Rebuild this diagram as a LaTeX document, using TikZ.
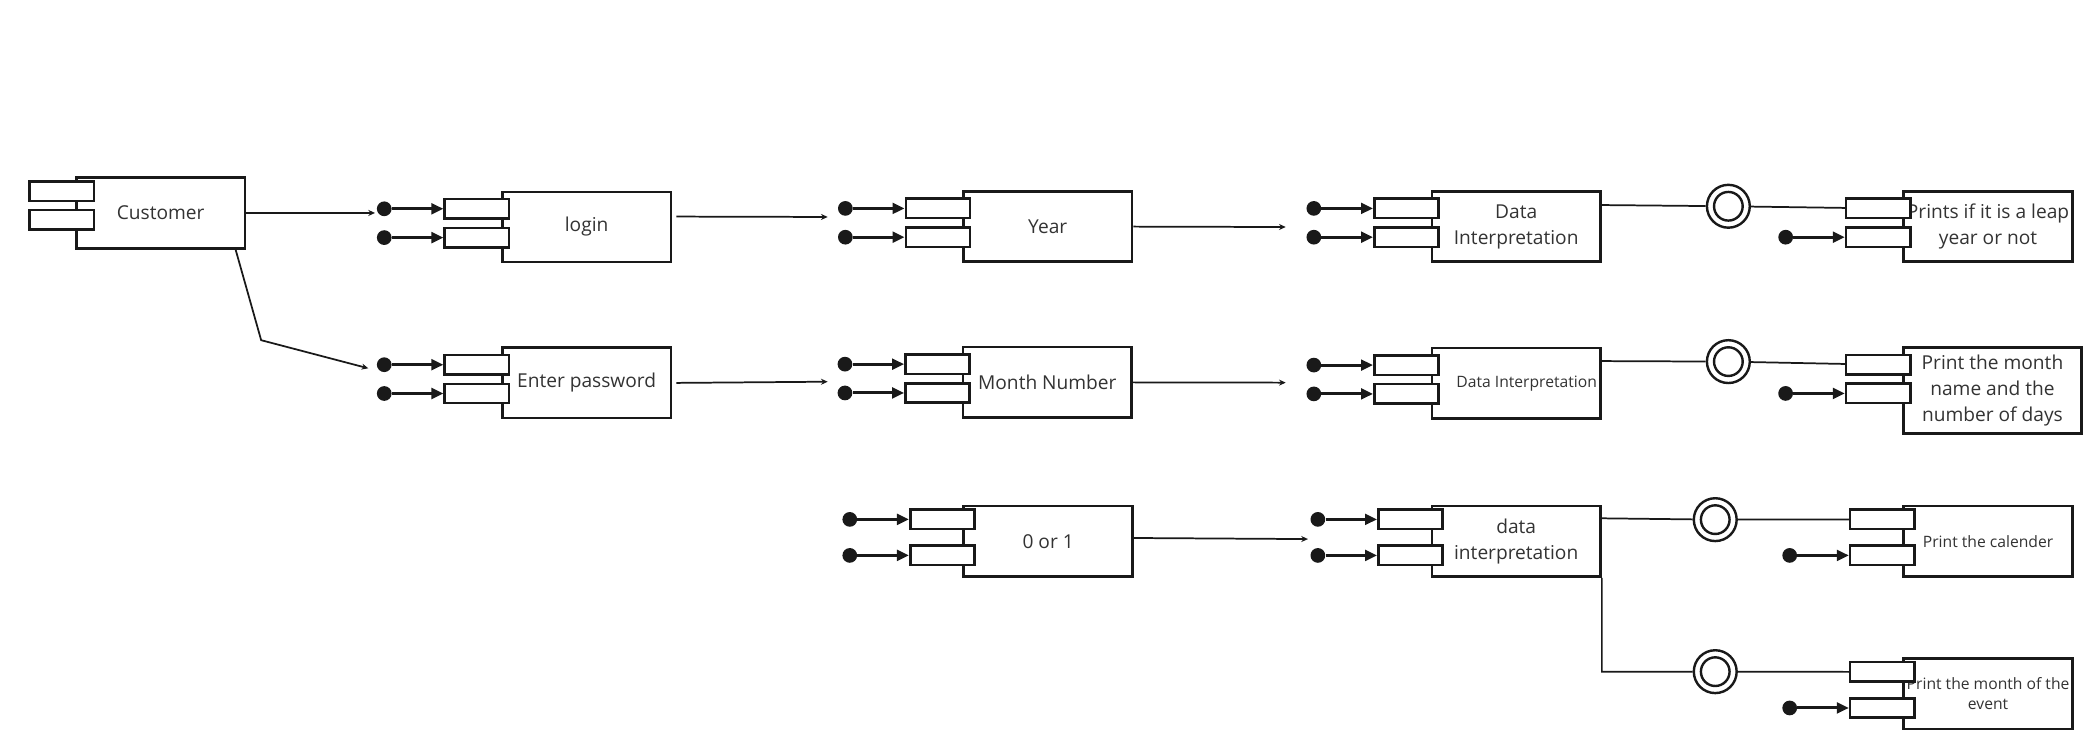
\documentclass[tikz,border=0pt]{standalone}
\usepackage{fontspec}
\setmainfont{Open Sans}
\usetikzlibrary{positioning,arrows.meta}

\tikzset{
  comp/.style={draw=black!90, line width=1.9pt, fill=white, minimum width=126pt, minimum height=52.5pt, inner sep=0pt, align=center, text=black!80, font=\fontsize{14.3}{19.4}\selectfont},
  small/.style={font=\fontsize{11.7}{15}\selectfont},
  port/.style={draw=black!90, line width=1.9pt, fill=white, minimum width=48pt, minimum height=14.5pt, inner sep=0pt},
  pin/.style={circle, fill=black!90, minimum size=11pt, inner sep=0pt},
  pinarrow/.style={draw=black!90, line width=2.2pt, -{Triangle[length=9pt,width=8pt]}},
  flow/.style={draw=black!90, line width=1.3pt, -{Stealth[length=5pt,width=4.5pt]}},
  wire/.style={draw=black!90, line width=1.3pt},
  ball/.style={circle, draw=black!90, line width=1.8pt, fill=white, minimum size=32pt, inner sep=0pt,
    path picture={\draw[black!90, line width=1.8pt] (path picture bounding box.center) circle (10.7pt);}}
}

\begin{document}
\begin{tikzpicture}[x=1pt, y=-1pt]
  \useasboundingbox (0,0) rectangle (1568,554.8);
  % Componentes
  \node[comp, minimum height=53pt] (cust) at (120,159) {Customer};
  \node[comp] (login) at (438,169.5) {login};
  \node[comp] (pass) at (438,285.9) {Enter password};
  \node[comp] (year) at (782.3,169.2) {Year};
  \node[comp] (month) at (782,285.5) {Month Number};
  \node[comp] (zero) at (782.6,404.2) {0 or 1};
  \node[comp] (interA) at (1132.1,169.2) {Data\\Interpretation};
  \node[comp, small] (interB) at (1132.1,286.2) {\hspace*{15.6pt}Data Interpretation};
  \node[comp] (interC) at (1132.1,404.2) {data\\interpretation};
  \node[comp] (prints) at (1484.4,169.2) {Prints if it is a leap\\year or not};
  \node[comp, minimum width=132.7pt, minimum height=64pt] (pmonth) at (1487.7,291.6) {Print the month\\name and the\\number of days};
  \node[comp, small] (calend) at (1484.4,404.2) {Print the calender};
  \node[comp, small] (event) at (1484.4,518.1) {Print the month of the\\event};

  % Portas
  \foreach \c/\dx/\ya/\yb in {cust/10/11.35/32.6, login/18/13.6/35.1, pass/18/13.6/35.1, year/18/13.6/35.1,
      month/18/13.6/35.1, interA/18/13.6/35.1, interB/18/13.6/35.1, zero/15/10.8/37.7, interC/15/10.8/37.7,
      prints/18/13.6/35.1, pmonth/18/13.6/35.1, calend/15/10.8/37.7, event/15/10.8/37.7} {
    \node[port] (\c-p1) at ([xshift=-\dx pt, yshift=-\ya pt]\c.north west) {};
    \node[port] (\c-p2) at ([xshift=-\dx pt, yshift=-\yb pt]\c.north west) {};
  }
  \foreach \c in {login, pass, year, month, interA, interB, zero, interC} {
    \node[pin, left=38.5pt of \c-p1] (\c-d1) {};
    \draw[pinarrow] (\c-d1) -- (\c-p1);
  }
  \foreach \c in {login, pass, year, month, interA, interB, zero, interC, prints, pmonth, calend, event} {
    \node[pin, left=38.5pt of \c-p2] (\c-d2) {};
    \draw[pinarrow] (\c-d2) -- (\c-p2);
  }

  % Conexoes
  \coordinate (c-login) at (280,159);
  \coordinate (k1) at (195,254);
  \coordinate (c-pass) at (275,275);
  \coordinate (c-year) at (618,162);
  \coordinate (c-month) at (618,285);
  \coordinate (c-interA) at (960,169.5);
  \coordinate (c-interB) at (960,285.7);
  \coordinate (c-interC) at (976.6,402.5);
  \draw[flow] (cust.east) -- (c-login);
  \draw[flow] ([xshift=-8pt]cust.south east) -- (k1) -- (c-pass);
  \draw[flow] ([xshift=3pt, yshift=7.8pt]login.east) -- (c-year);
  \draw[flow] ([xshift=3pt]pass.east) -- (c-month);
  \draw[flow] (year.east) -- (c-interA);
  \draw[flow] (month.east) -- (c-interB);
  \draw[flow] ([yshift=2.5pt]zero.east) -- (c-interC);

  % Interfaces
  \node[ball] (b1) at (1290.5,154) {};
  \node[ball] (b2) at (1290.5,270) {};
  \node[ball] (b3) at (1280.7,388) {};
  \node[ball] (b4) at (1280.7,501.5) {};
  \draw[wire] ([yshift=16.1pt]interA.east) -- (b1) -- (prints-p1);
  \draw[wire] ([yshift=16.6pt]interB.east) -- (b2) -- (pmonth-p1);
  \draw[wire] ([yshift=17.2pt]interC.east) -- (b3) -- (calend-p1);
  \draw[wire] (interC.south east) -- (interC.south east |- b4) -- (b4) -- (event-p1);
\end{tikzpicture}
\end{document}
